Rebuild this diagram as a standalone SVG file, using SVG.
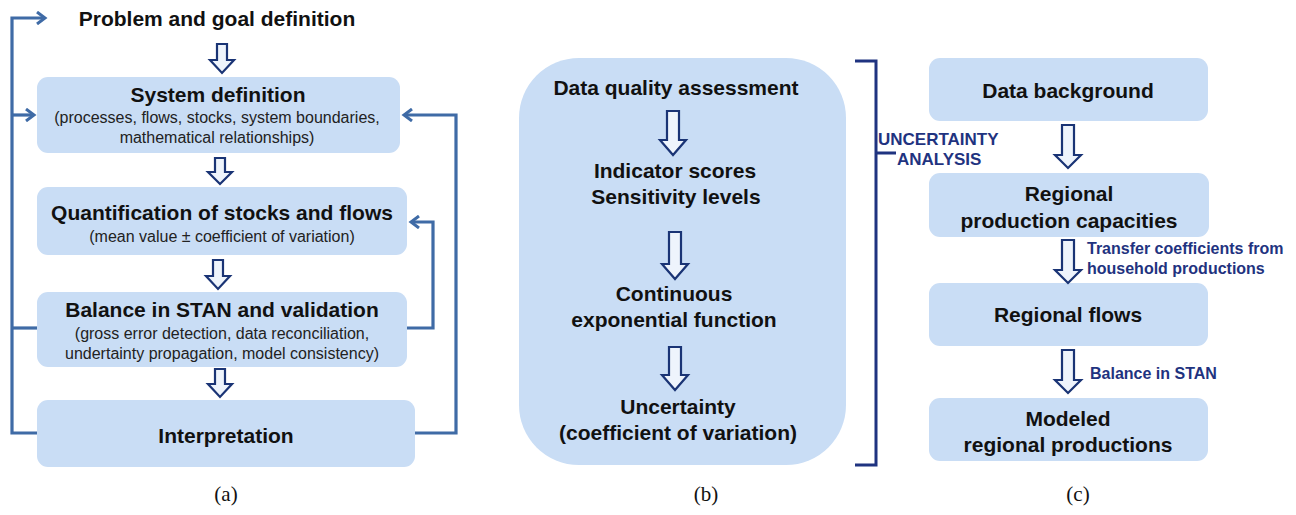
<svg xmlns="http://www.w3.org/2000/svg" width="1296" height="515" viewBox="0 0 1296 515">
<style>
.box{fill:#c9ddf5;}
.t{font-family:"Liberation Sans",Arial,sans-serif;font-weight:bold;font-size:21px;fill:#111;text-anchor:middle;}
.s{font-family:"Liberation Sans",Arial,sans-serif;font-size:16px;fill:#222;text-anchor:middle;}
.lab{font-family:"Liberation Sans",Arial,sans-serif;font-weight:bold;font-size:16px;fill:#1f3380;}
.cap{font-family:"Liberation Serif","Times New Roman",serif;font-size:21px;fill:#111;text-anchor:middle;}
.ha{fill:#eef4fc;stroke:#1a3475;stroke-width:2.2;stroke-linejoin:miter;}
.fb{fill:none;stroke:#3f6ba6;stroke-width:3.2;}
.br{fill:none;stroke:#1f3380;stroke-width:3;}
</style>
<defs>
<marker id="ah" markerWidth="12" markerHeight="14" refX="9" refY="7" orient="auto" markerUnits="userSpaceOnUse">
<path d="M1,1 L9,7 L1,13" fill="none" stroke="#3f6ba6" stroke-width="3"/>
</marker>
</defs>

<!-- Panel (a) -->
<g id="a-problem"><text class="t" x="217" y="26">Problem and goal definition</text></g>
<g id="a-system">
<rect class="box" x="37" y="77" width="363" height="76" rx="11"/>
<text class="t" x="218" y="102">System definition</text>
<text class="s" x="217" y="123">(processes, flows, stocks, system boundaries,</text>
<text class="s" x="217" y="143">mathematical relationships)</text>
</g>
<g id="a-quant">
<rect class="box" x="37" y="187" width="370" height="68" rx="11"/>
<text class="t" x="222" y="220">Quantification of stocks and flows</text>
<text class="s" x="222" y="242">(mean value ± coefficient of variation)</text>
</g>
<g id="a-balance">
<rect class="box" x="37" y="292" width="370" height="75" rx="11"/>
<text class="t" x="222" y="317">Balance in STAN and validation</text>
<text class="s" x="222" y="339">(gross error detection, data reconciliation,</text>
<text class="s" x="222" y="359">undertainty propagation, model consistency)</text>
</g>
<g id="a-interp">
<rect class="box" x="37" y="400" width="378" height="67" rx="11"/>
<text class="t" x="226" y="443">Interpretation</text>
</g>

<!-- Panel (b) -->
<g id="b-box">
<rect class="box" x="519" y="58" width="327" height="407" rx="60"/>
<text class="t" x="676" y="95">Data quality assessment</text>
<text class="t" x="675" y="178">Indicator scores</text>
<text class="t" x="676" y="204">Sensitivity levels</text>
<text class="t" x="674" y="301">Continuous</text>
<text class="t" x="674" y="327">exponential function</text>
<text class="t" x="678" y="414">Uncertainty</text>
<text class="t" x="678" y="440">(coefficient of variation)</text>
</g>
<g id="b-bracket">
<path class="br" d="M855,61 H876 V465 H855 M876,153 H896"/>
<text class="lab" x="878" y="145" style="font-size:17px">UNCERTAINTY</text>
<text class="lab" x="897" y="165" style="font-size:17px">ANALYSIS</text>
</g>

<!-- Panel (c) -->
<g id="c-data">
<rect class="box" x="929" y="58" width="279" height="63" rx="11"/>
<text class="t" x="1068" y="98">Data background</text>
</g>
<g id="c-capac">
<rect class="box" x="929" y="173" width="280" height="64" rx="11"/>
<text class="t" x="1069" y="201">Regional</text>
<text class="t" x="1069" y="228">production capacities</text>
</g>
<g id="c-flows">
<rect class="box" x="929" y="283" width="279" height="63" rx="11"/>
<text class="t" x="1068" y="322">Regional flows</text>
</g>
<g id="c-modeled">
<rect class="box" x="929" y="398" width="279" height="63" rx="11"/>
<text class="t" x="1068" y="426">Modeled</text>
<text class="t" x="1068" y="452">regional productions</text>
</g>

<!-- Connectors -->
<g id="connectors">
<!-- (a) hollow arrows -->
<path class="ha" d="M217,44 H227 V60 H234 L222,73 L210,60 H217 Z"/>
<path class="ha" d="M215,158 H225 V172 H232 L220,184 L208,172 H215 Z"/>
<path class="ha" d="M213,260 H223 V276 H230 L218,289 L206,276 H213 Z"/>
<path class="ha" d="M215,369 H225 V384 H232 L220,397 L208,384 H215 Z"/>
<!-- (a) feedback lines -->
<path class="fb" d="M37,433 H12 V18 H45" marker-end="url(#ah)"/>
<path class="fb" d="M12,115 H34" marker-end="url(#ah)"/>
<path class="fb" d="M37,328 H12"/>
<path class="fb" d="M415,433 H456 V115 H404" marker-end="url(#ah)"/>
<path class="fb" d="M407,328 H433 V222 H411" marker-end="url(#ah)"/>
<!-- (b) hollow arrows -->
<path class="ha" d="M667,111 H679 V140 H686 L673,155 L660,140 H667 Z"/>
<path class="ha" d="M669,232 H681 V264 H688 L675,279 L662,264 H669 Z"/>
<path class="ha" d="M669,347 H681 V375 H688 L675,390 L662,375 H669 Z"/>
<!-- (c) hollow arrows -->
<path class="ha" d="M1062,125 H1074 V155 H1081 L1068,168 L1055,155 H1062 Z"/>
<path class="ha" d="M1062,240 H1074 V270 H1081 L1068,283 L1055,270 H1062 Z"/>
<path class="ha" d="M1062,350 H1074 V380 H1081 L1068,393 L1055,380 H1062 Z"/>
<text class="lab" x="1087" y="254">Transfer coefficients from</text>
<text class="lab" x="1087" y="274">household productions</text>
<text class="lab" x="1090" y="379">Balance in  STAN</text>
</g>

<!-- Captions -->
<text class="cap" x="226" y="501">(a)</text>
<text class="cap" x="706" y="501">(b)</text>
<text class="cap" x="1078" y="501">(c)</text>
</svg>
